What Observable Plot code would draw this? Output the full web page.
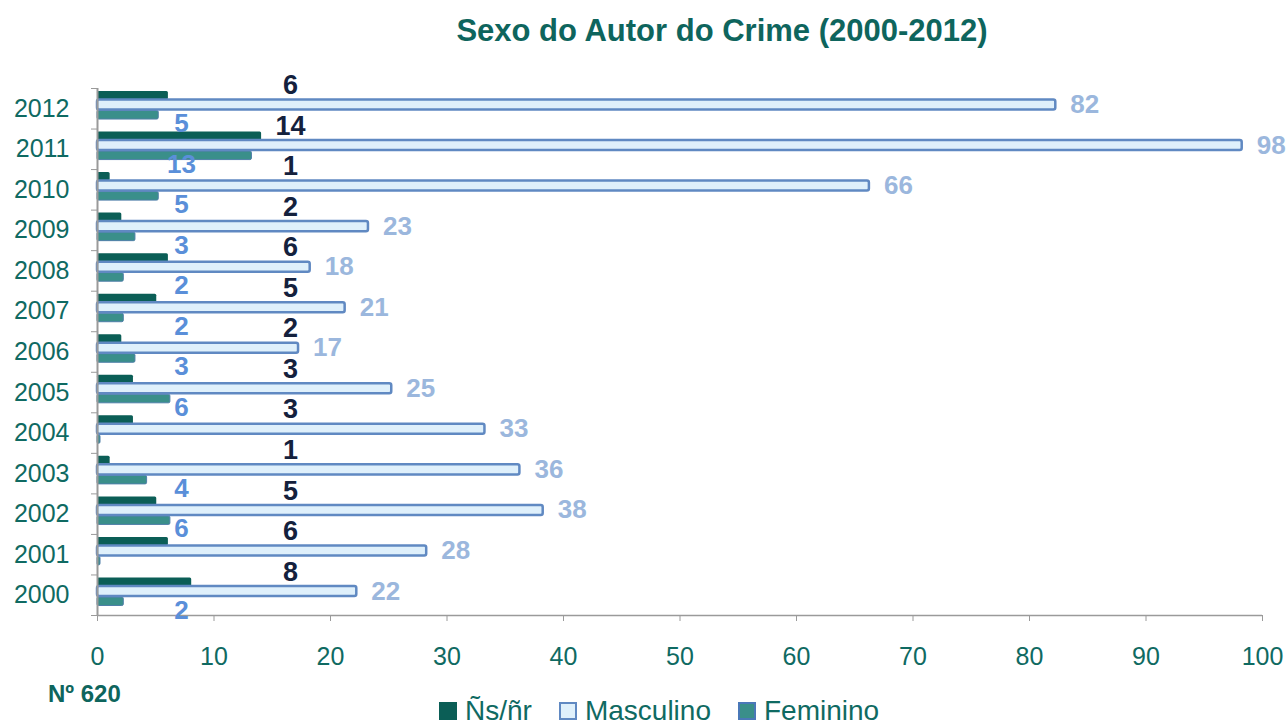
<!DOCTYPE html>
<html>
<head>
<meta charset="utf-8">
<script src="https://cdn.jsdelivr.net/npm/d3@7"></script>
<script src="https://cdn.jsdelivr.net/npm/@observablehq/plot@0.6"></script>
<style>
  html, body { margin: 0; padding: 0; background: #fff; }
  body { width: 1286px; height: 724px; overflow: hidden; position: relative; font-family: "Liberation Sans", Arial, sans-serif; }
  #title { position: absolute; top: 15px; left: 79px; width: 1286px; text-align: center; font-weight: bold; font-size: 31px; line-height: 31px; color: #0e655d; }
  #chart { position: absolute; top: 60px; left: 0; }
  #note { position: absolute; top: 682px; left: 48px; font-weight: bold; font-size: 24px; line-height: 24px; color: #0e655d; }
  #legend { position: absolute; top: 696px; left: 439px; display: flex; align-items: center; gap: 27px; font-size: 28px; line-height: 29px; color: #0f6a62; }
  #legend .item { display: flex; align-items: center; }
  #legend .sw { width: 18px; height: 18px; margin-right: 8px; box-sizing: border-box; }
</style>
</head>
<body>
<div id="title">Sexo do Autor do Crime (2000-2012)</div>
<div id="chart"></div>
<div id="note">Nº 620</div>
<div id="legend"></div>
<script>
const years = ["2000","2001","2002","2003","2004","2005","2006","2007","2008","2009","2010","2011","2012"];
const nsnr      = [8, 6, 5, 1, 3, 3, 2, 5, 6, 2, 1, 14, 6];
const masculino = [22, 28, 38, 36, 33, 25, 17, 21, 18, 23, 66, 98, 82];
const feminino  = [2, 0, 6, 4, 0, 6, 3, 2, 2, 3, 5, 13, 5];
const seriesNames = ["Ñs/ñr", "Masculino", "Feminino"];
const xTicks = [0, 10, 20, 30, 40, 50, 60, 70, 80, 90, 100];

const colNs = "#0b5e56", colMasc = "#dff0fb", colMascStroke = "#6089c2", colFem = "#3a8f8a";
const teal = "#0f6a62", gray = "#9a9a9a";

const rows = years.map((y, i) => ({year: y, i, i1: i + 1, mid: i + 0.5, ns: nsnr[i], m: masculino[i], f: feminino[i]}));

const chart = Plot.plot({
  width: 1286,
  height: 620,
  marginTop: 28,
  marginBottom: 65,
  marginLeft: 97,
  marginRight: 24,
  style: {fontFamily: "'Liberation Sans', Arial, sans-serif", fontSize: "25px", background: "transparent"},
  x: {domain: [0, 100]},
  y: {domain: [0, years.length]},
  marks: [
    Plot.rect(rows, {x1: 0, x2: "ns", y1: "i", y2: "i1", insetTop: 3, insetBottom: 29, insetRight: -1, fill: colNs, rx: 1.5}),
    Plot.rect(rows, {x1: 0, x2: "f", y1: "i", y2: "i1", insetTop: 22.5, insetBottom: 9.5, insetRight: -3, fill: colFem, stroke: "#4f7fa8", strokeWidth: 1, rx: 1.5}),
    Plot.rect(rows, {x1: 0, x2: "m", y1: "i", y2: "i1", insetTop: 11.5, insetBottom: 19, insetRight: -3, fill: colMasc, stroke: colMascStroke, strokeWidth: 2.5, rx: 2}),
    Plot.ruleX([0], {stroke: gray, strokeWidth: 2}),
    Plot.ruleY([0], {stroke: gray, strokeWidth: 1.5}),
    Plot.axisY(d3.range(0, years.length + 1), {tickSize: 6, tickFormat: () => "", stroke: gray}),
    Plot.axisY(rows.map(d => d.mid), {tickSize: 0, tickPadding: 28, tickFormat: v => years[Math.floor(v)], color: teal, fontSize: 25, label: null}),
    Plot.axisX(xTicks, {tickSize: 6, tickFormat: () => "", stroke: gray, label: null}),
    Plot.axisX(xTicks, {tickSize: 0, tickPadding: 32, tickFormat: d => String(d), color: teal, fontSize: 25, label: null}),
    Plot.text(rows, {x: 0, y: "i1", text: d => String(d.ns), dx: 193, dy: -3, fill: "#14213d", fontWeight: "bold", fontSize: 27}),
    Plot.text(rows, {x: "m", y: "mid", text: d => String(d.m), dx: 32, dy: -4, fill: "#9bb7dd", fontWeight: "bold", fontSize: 26}),
    Plot.text(rows.filter(d => d.f > 0), {x: 0, y: "mid", text: d => String(d.f), dx: 84, dy: 15, fill: "#5a8fd9", fontWeight: "bold", fontSize: 26})
  ]
});
document.getElementById("chart").appendChild(chart);

const swatchStyles = [
  `background:${colNs};`,
  `background:${colMasc};border:2px solid ${colMascStroke};`,
  `background:${colFem};border:2px solid #4a78b8;`
];
const legend = document.getElementById("legend");
seriesNames.forEach((name, k) => {
  const item = document.createElement("div");
  item.className = "item";
  item.innerHTML = `<span class="sw" style="${swatchStyles[k]}"></span><span>${name}</span>`;
  legend.appendChild(item);
});
</script>
</body>
</html>
